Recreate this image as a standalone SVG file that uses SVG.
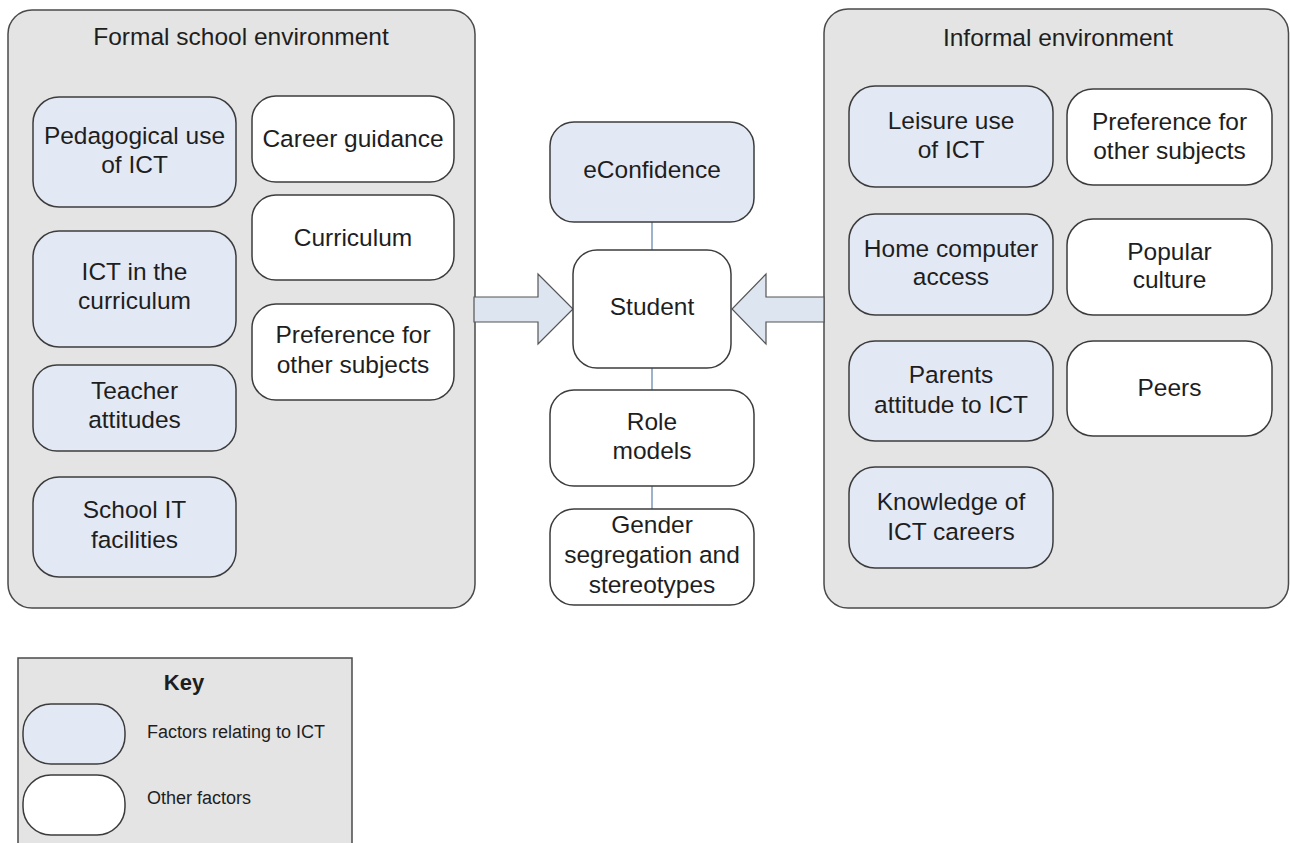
<svg xmlns="http://www.w3.org/2000/svg" width="1290" height="843" viewBox="0 0 1290 843">
<style>
  text { font-family: "Liberation Sans", Arial, sans-serif; fill: #1e1e1e; text-anchor: middle; }
  .t { font-size: 24.5px; }
  .cont { fill: #e4e4e4; stroke: #4a4a4a; stroke-width: 1.5; }
  .ict { fill: #e3e9f4; stroke: #3c3c3c; stroke-width: 1.5; }
  .oth { fill: #ffffff; stroke: #3c3c3c; stroke-width: 1.5; }
  .link { stroke: #9db3cc; stroke-width: 2; fill: none; }
  .arrow { fill: #dce5f0; stroke: #555555; stroke-width: 1.2; }
  .key { font-size: 18px; text-anchor: start; }
</style>
<rect width="1290" height="843" fill="#ffffff"/>

<g id="formal-environment">
  <rect class="cont" x="8" y="10" width="467" height="598" rx="24"/>
  <text class="t" x="241" y="45">Formal school environment</text>
</g>
<g id="informal-environment">
  <rect class="cont" x="824" y="9" width="464.5" height="599" rx="24"/>
  <text class="t" x="1058" y="46">Informal environment</text>
</g>

<g id="connectors">
  <line class="link" x1="652" y1="222" x2="652" y2="250"/>
  <line class="link" x1="652" y1="368" x2="652" y2="390"/>
  <line class="link" x1="652" y1="486" x2="652" y2="509"/>
  <polygon class="arrow" points="474,297 538,297 538,274 573,309 538,344 538,322 474,322"/>
  <polygon class="arrow" points="824,297 766,297 766,274 732,309 766,344 766,322 824,322"/>
</g>

<g id="pedagogical-use">
  <rect class="ict" x="33" y="97" width="203" height="110" rx="26"/>
  <text class="t" x="134.5" y="144">Pedagogical use</text>
  <text class="t" x="134.5" y="173">of ICT</text>
</g>
<g id="ict-curriculum">
  <rect class="ict" x="33" y="231" width="203" height="116" rx="26"/>
  <text class="t" x="134.5" y="280">ICT in the</text>
  <text class="t" x="134.5" y="309">curriculum</text>
</g>
<g id="teacher-attitudes">
  <rect class="ict" x="33" y="365" width="203" height="86" rx="24"/>
  <text class="t" x="134.5" y="399">Teacher</text>
  <text class="t" x="134.5" y="428">attitudes</text>
</g>
<g id="school-it">
  <rect class="ict" x="33" y="477" width="203" height="100" rx="26"/>
  <text class="t" x="134.5" y="518">School IT</text>
  <text class="t" x="134.5" y="548">facilities</text>
</g>
<g id="career-guidance">
  <rect class="oth" x="252" y="96" width="202" height="86" rx="24"/>
  <text class="t" x="353" y="147">Career guidance</text>
</g>
<g id="curriculum">
  <rect class="oth" x="252" y="195" width="202" height="85" rx="24"/>
  <text class="t" x="353" y="246">Curriculum</text>
</g>
<g id="preference-formal">
  <rect class="oth" x="252" y="304" width="202" height="96" rx="24"/>
  <text class="t" x="353" y="343">Preference for</text>
  <text class="t" x="353" y="373">other subjects</text>
</g>

<g id="econfidence">
  <rect class="ict" x="550" y="122" width="204" height="100" rx="24"/>
  <text class="t" x="652" y="178">eConfidence</text>
</g>
<g id="student">
  <rect class="oth" x="573" y="250" width="158" height="118" rx="24"/>
  <text class="t" x="652" y="315">Student</text>
</g>
<g id="role-models">
  <rect class="oth" x="550" y="390" width="204" height="96" rx="24"/>
  <text class="t" x="652" y="430">Role</text>
  <text class="t" x="652" y="459">models</text>
</g>
<g id="gender">
  <rect class="oth" x="550" y="509" width="204" height="96" rx="24"/>
  <text class="t" x="652" y="533">Gender</text>
  <text class="t" x="652" y="563">segregation and</text>
  <text class="t" x="652" y="593">stereotypes</text>
</g>

<g id="leisure-use">
  <rect class="ict" x="849" y="86" width="204" height="101" rx="26"/>
  <text class="t" x="951" y="129">Leisure use</text>
  <text class="t" x="951" y="158">of ICT</text>
</g>
<g id="home-computer">
  <rect class="ict" x="849" y="214" width="204" height="101" rx="26"/>
  <text class="t" x="951" y="257">Home computer</text>
  <text class="t" x="951" y="285">access</text>
</g>
<g id="parents-attitude">
  <rect class="ict" x="849" y="341" width="204" height="100" rx="26"/>
  <text class="t" x="951" y="383">Parents</text>
  <text class="t" x="951" y="413">attitude to ICT</text>
</g>
<g id="knowledge-careers">
  <rect class="ict" x="849" y="467" width="204" height="101" rx="26"/>
  <text class="t" x="951" y="510">Knowledge of</text>
  <text class="t" x="951" y="540">ICT careers</text>
</g>
<g id="preference-informal">
  <rect class="oth" x="1067" y="89" width="205" height="96" rx="26"/>
  <text class="t" x="1169.5" y="130">Preference for</text>
  <text class="t" x="1169.5" y="159">other subjects</text>
</g>
<g id="popular-culture">
  <rect class="oth" x="1067" y="219" width="205" height="96" rx="26"/>
  <text class="t" x="1169.5" y="260">Popular</text>
  <text class="t" x="1169.5" y="288">culture</text>
</g>
<g id="peers">
  <rect class="oth" x="1067" y="341" width="205" height="95" rx="26"/>
  <text class="t" x="1169.5" y="396">Peers</text>
</g>

<g id="key">
  <rect x="18" y="658" width="334" height="200" fill="#e4e4e4" stroke="#4a4a4a" stroke-width="1.5"/>
  <text x="184" y="690" style="font-size:22px;font-weight:bold">Key</text>
  <rect class="ict" x="23" y="704" width="102" height="60" rx="28"/>
  <text class="key" x="147" y="738">Factors relating to ICT</text>
  <rect class="oth" x="23" y="775" width="102" height="60" rx="28"/>
  <text class="key" x="147" y="804">Other factors</text>
</g>
</svg>
